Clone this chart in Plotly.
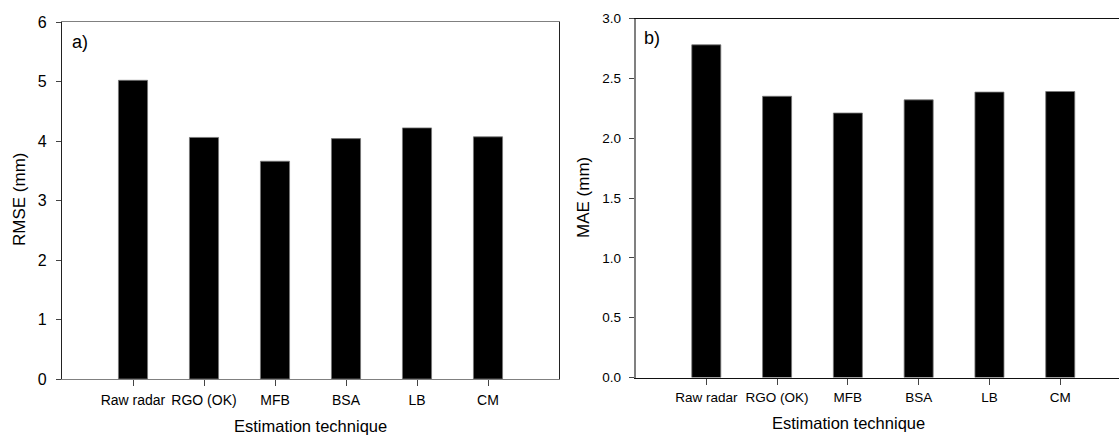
import plotly.graph_objects as go

# Estimation techniques and their error scores
techniques = ["Raw radar", "RGO (OK)", "MFB", "BSA", "LB", "CM"]
rmse_mm = [5.02, 4.06, 3.66, 4.04, 4.22, 4.07]
mae_mm = [2.78, 2.35, 2.21, 2.32, 2.385, 2.39]
rmse_ticks = [0, 1, 2, 3, 4, 5, 6]
mae_ticks = [0.0, 0.5, 1.0, 1.5, 2.0, 2.5, 3.0]
mae_ticklabels = ["0.0", "0.5", "1.0", "1.5", "2.0", "2.5", "3.0"]

W, H = 1119, 437
positions = list(range(1, len(techniques) + 1))
FONT = "Liberation Sans, Arial, sans-serif"


def px_x(v):
    return v / W


def px_y(v):
    return 1 - v / H


fig = go.Figure()

bar_style = dict(marker=dict(color="black", line=dict(color="#777777", width=0.8)),
                 width=0.41, showlegend=False, hoverinfo="x+y")

fig.add_trace(go.Bar(x=positions, y=rmse_mm, xaxis="x", yaxis="y", **bar_style))
fig.add_trace(go.Bar(x=positions, y=mae_mm, xaxis="x2", yaxis="y2", **bar_style))

common = dict(showgrid=False, zeroline=False, automargin=False,
              ticks="outside", tickcolor="#444444")

fig.update_layout(
    width=W, height=H,
    margin=dict(l=0, r=0, t=0, b=0, autoexpand=False),
    paper_bgcolor="white", plot_bgcolor="white",
    font=dict(family=FONT, color="black"),
    xaxis=dict(
        domain=[px_x(62), px_x(559)], range=[0, 7],
        tickvals=positions, ticktext=techniques,
        tickfont=dict(size=14), ticklen=6,
        showline=True, linecolor="#808080", linewidth=1.2, mirror=True,
        anchor="y", ticklabelstandoff=2, **common,
    ),
    yaxis=dict(
        domain=[px_y(379), px_y(22)], range=[0, 6],
        tickvals=rmse_ticks, tickfont=dict(size=16), ticklen=5,
        showline=True, linecolor="#222222", linewidth=1.2, mirror=True,
        anchor="x", ticklabelstandoff=6, **common,
    ),
    xaxis2=dict(
        domain=[px_x(635.5), 1.0], range=[0, 6.83],
        tickvals=positions, ticktext=techniques,
        tickfont=dict(size=13.5), ticklen=6,
        showline=True, linecolor="#111111", linewidth=1.2, mirror=True,
        anchor="y2", ticklabelstandoff=1, **common,
    ),
    yaxis2=dict(
        domain=[px_y(377.5), px_y(18.5)], range=[0, 3],
        tickvals=mae_ticks, ticktext=mae_ticklabels, tickfont=dict(size=13.5),
        ticklen=5,
        showline=True, linecolor="#808080", linewidth=1.5, mirror=False,
        anchor="x2", ticklabelstandoff=5, **common,
    ),
)

annotations = [
    dict(text="a)", x=px_x(70), y=px_y(42), xanchor="left", yanchor="middle",
         font=dict(size=18)),
    dict(text="b)", x=px_x(642), y=px_y(38), xanchor="left", yanchor="middle",
         font=dict(size=18)),
    dict(text="Estimation technique", x=px_x(310), y=px_y(426),
         xanchor="center", yanchor="middle", font=dict(size=16.5)),
    dict(text="Estimation technique", x=px_x(848), y=px_y(423),
         xanchor="center", yanchor="middle", font=dict(size=16.5)),
    dict(text="RMSE (mm)", x=px_x(19), y=px_y(200), textangle=-90,
         xanchor="center", yanchor="middle", font=dict(size=17)),
    dict(text="MAE (mm)", x=px_x(583), y=px_y(198), textangle=-90,
         xanchor="center", yanchor="middle", font=dict(size=17)),
]
for a in annotations:
    a.update(xref="paper", yref="paper", showarrow=False)
fig.update_layout(annotations=annotations)

fig.write_html("out.html")
